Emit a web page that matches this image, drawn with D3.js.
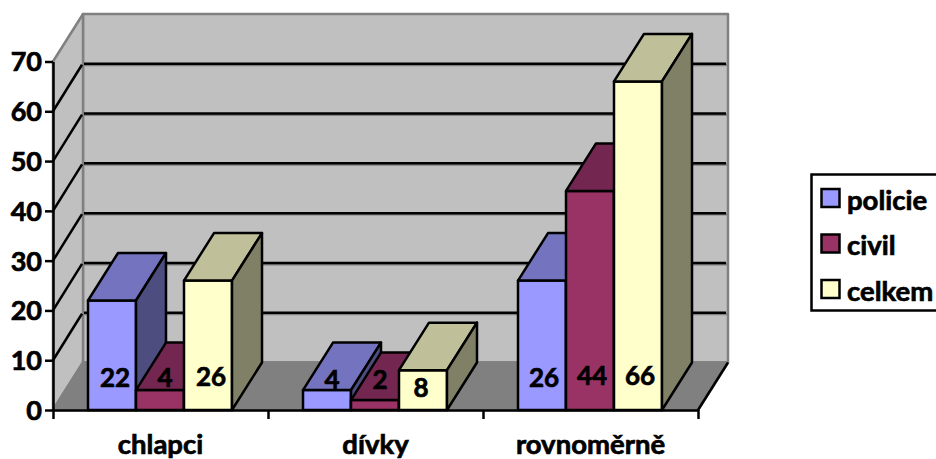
<!DOCTYPE html>
<html><head><meta charset="utf-8">
<style>html,body{margin:0;padding:0;background:#fff;overflow:hidden}svg{display:block}text{font-family:Lato,"Open Sans",sans-serif;font-weight:700;fill:#000;stroke:#000;stroke-width:.7px}</style>
<script src="https://cdn.jsdelivr.net/npm/d3@7/dist/d3.min.js"></script>
</head><body><svg id="c" width="936" height="459"></svg>
<script>
const categories = ["chlapci", "dívky", "rovnoměrně"];
const seriesNames = ["policie", "civil", "celkem"];
const policie = [22, 4, 26];
const civil = [4, 2, 44];
const celkem = [26, 8, 66];
const yTicks = [0, 10, 20, 30, 40, 50, 60, 70];
const seriesValues = [policie, civil, celkem];
const frontColors = ["#9999FF", "#993366", "#FFFFCC"];
const topColors = ["#7373BF", "#732650", "#BFBF99"];
const sideColors = ["#4D4D80", "#4D1933", "#808066"];

const svg = d3.select("#c");
const L = 53, R = 698, B = 410, T = 61.5, DX = 30, DY = -47.5, BW = 48;
// label placement offsets, per category then series (layout only)
const labelDX = [[27, 29, 27], [29, 29, 22], [26, 26, 26]];
const labelCY = [[378, 378, 377], [380, 380, 388], [378, 376, 376]];
const y = d3.scaleLinear().domain([0, 70]).range([B, T]);
const x0 = d3.scaleBand().domain(categories).range([L, R]);
const x1 = i => x0.bandwidth() / 2 - 72.5 + i * BW;
const poly = (pts, fill, stroke, sw) => svg.append("polygon")
  .attr("points", pts.map(p => p.join(",")).join(" "))
  .attr("fill", fill).attr("stroke", stroke).attr("stroke-width", sw).attr("stroke-linejoin", "round");

// walls and floor
poly([[L + DX, T + DY], [R + DX, T + DY], [R + DX, B + DY], [L + DX, B + DY]], "#C0C0C0", "#808080", 2.5);
poly([[L, T], [L + DX, T + DY], [L + DX, B + DY], [L, B]], "#C0C0C0", "#808080", 2.5);
poly([[L, B], [L + DX, B + DY], [R + DX, B + DY], [R, B]], "#808080", "#808080", 2.5);
// gridlines
yTicks.filter(v => v > 0 && v < 70).forEach(v => {
  svg.append("line").attr("x1", L + DX + 1).attr("x2", R + DX - 1).attr("y1", y(v) + DY + 1.2).attr("y2", y(v) + DY + 1.2).attr("stroke", "#808080").attr("stroke-width", 2.5);
  svg.append("line").attr("x1", L + DX + 1).attr("x2", R + DX - 2).attr("y1", y(v) + DY).attr("y2", y(v) + DY).attr("stroke", "#000").attr("stroke-width", 2.5);
  svg.append("line").attr("x1", L).attr("x2", L + DX - 1).attr("y1", y(v)).attr("y2", y(v) + DY + 1).attr("stroke", "#000").attr("stroke-width", 2.5);
});
svg.append("line").attr("x1", R).attr("y1", B).attr("x2", R + DX).attr("y2", B + DY).attr("stroke", "#000").attr("stroke-width", 2.5);

// bars
categories.forEach((c, ci) => {
  seriesValues.forEach((vals, si) => {
    const bx = x0(c) + x1(si), by = y(vals[ci]);
    poly([[bx, by], [bx + BW, by], [bx + BW, B], [bx, B]], frontColors[si], "#000", 2.5);
    poly([[bx, by], [bx + DX, by + DY], [bx + BW + DX, by + DY], [bx + BW, by]], topColors[si], "#000", 2.5);
    poly([[bx + BW, by], [bx + BW + DX, by + DY], [bx + BW + DX, B + DY], [bx + BW, B]], sideColors[si], "#000", 2.5);
  });
});

// axes
const yAxis = d3.axisLeft(y).tickValues(yTicks).tickSize(8).tickPadding(3).tickSizeOuter(0);
const gy = svg.append("g").attr("transform", `translate(${L},0)`).call(yAxis);
gy.selectAll("path,line").attr("stroke", "#000").attr("stroke-width", 2.5);
gy.selectAll("text").style("font-size", "27px").style("font-family", "Lato").style("font-weight", 700).attr("dy", "0.35em");
const edge = d3.scaleLinear().domain([0, categories.length]).range([L, R]);
const gx = svg.append("g").attr("transform", `translate(0,${B})`).call(d3.axisBottom(edge).ticks(categories.length).tickSize(9).tickSizeOuter(0).tickFormat(""));
gx.selectAll("path,line").attr("stroke", "#000").attr("stroke-width", 2.5);
const gc = svg.append("g").attr("transform", `translate(0,${B})`).call(d3.axisBottom(x0).tickSize(0).tickPadding(24));
gc.select("path").remove();
gc.selectAll("text").style("font-size", "27.5px").style("font-family", "Lato").style("font-weight", 700);

// data labels
categories.forEach((c, ci) => {
  seriesValues.forEach((vals, si) => {
    const bx = x0(c) + x1(si), v = vals[ci];
    svg.append("text").attr("x", bx + labelDX[ci][si]).attr("y", labelCY[ci][si])
      .attr("dy", "0.36em").attr("text-anchor", "middle").style("font-size", "26px").text(v);
  });
});

// legend
svg.append("rect").attr("x", 811.5).attr("y", 174.5).attr("width", 126).attr("height", 136).attr("fill", "#fff").attr("stroke", "#000").attr("stroke-width", 2.5);
seriesNames.forEach((n, i) => {
  const ly = 198 + i * 45.5;
  svg.append("rect").attr("x", 821.5).attr("y", ly - 9).attr("width", 18).attr("height", 18).attr("fill", frontColors[i]).attr("stroke", "#000").attr("stroke-width", 2.5);
  svg.append("text").attr("x", 847).attr("y", ly + 2).attr("dy", "0.36em").style("font-size", "27.5px").text(n);
});
</script></body></html>
